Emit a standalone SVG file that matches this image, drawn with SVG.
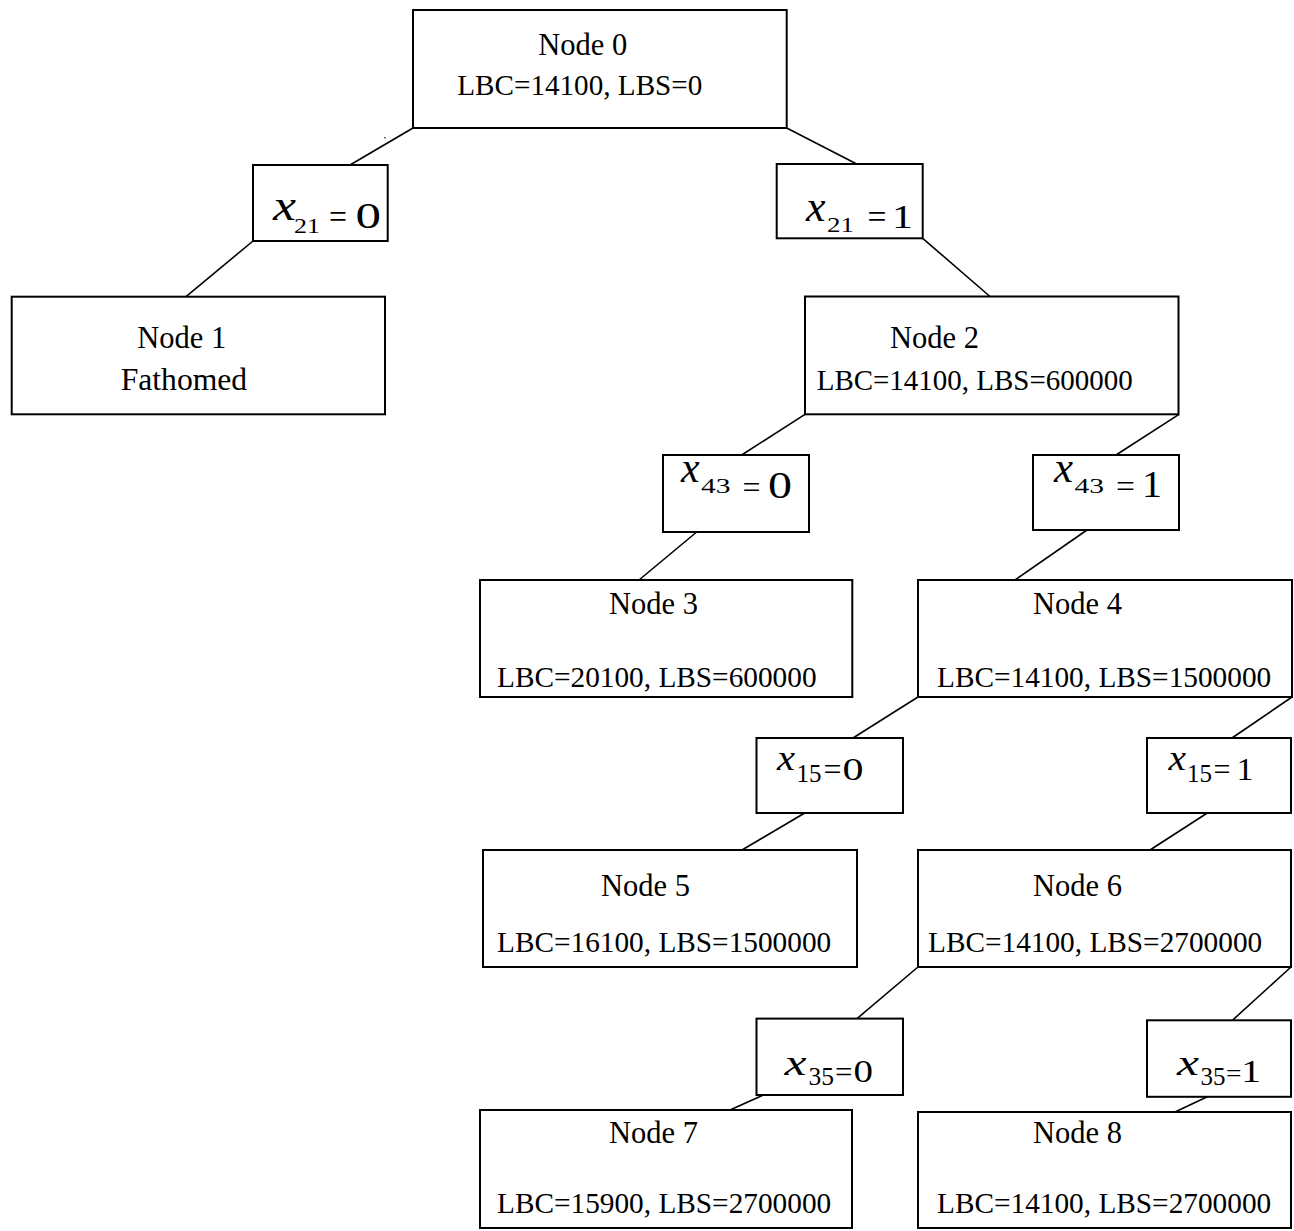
<svg xmlns="http://www.w3.org/2000/svg" width="1294" height="1231" viewBox="0 0 1294 1231">
  <style>
    .box { fill: #fff; stroke: #000; stroke-width: 2; }
    .edge { stroke: #000; stroke-width: 1.6; fill: none; }
    .t { font-family: "Liberation Serif", "Times New Roman", serif; fill: #000; }
    .nm { font-size: 30.5px; }
    .lb { font-size: 29.3px; }
    .var { font-style: italic; }
  </style>
  <rect width="1294" height="1231" fill="#fff"/>

  <!-- branch connectors -->
  <g id="connectors">
    <line class="edge" x1="413" y1="128" x2="350" y2="165"/>
    <line class="edge" x1="253" y1="241" x2="186" y2="296.7"/>
    <line class="edge" x1="786.7" y1="128" x2="856.7" y2="164"/>
    <line class="edge" x1="922.7" y1="238.3" x2="990" y2="296.5"/>
    <line class="edge" x1="805" y1="414.3" x2="741.7" y2="455"/>
    <line class="edge" x1="696.7" y1="532" x2="639" y2="580"/>
    <line class="edge" x1="1179" y1="414.3" x2="1116" y2="455"/>
    <line class="edge" x1="1087" y1="530" x2="1015" y2="580"/>
    <line class="edge" x1="918" y1="697" x2="853" y2="738"/>
    <line class="edge" x1="804.7" y1="813" x2="742" y2="850"/>
    <line class="edge" x1="1292" y1="697" x2="1232" y2="738"/>
    <line class="edge" x1="1207.3" y1="813" x2="1150" y2="850"/>
    <line class="edge" x1="918" y1="967" x2="857" y2="1018.6"/>
    <line class="edge" x1="763.4" y1="1095" x2="730" y2="1110"/>
    <line class="edge" x1="1291" y1="967" x2="1232.4" y2="1020.3"/>
    <line class="edge" x1="1207.3" y1="1096.8" x2="1175" y2="1112"/>
  </g>

  <!-- stray speck beside node 0 -->
  <circle cx="385" cy="137.7" r="0.8" fill="#000"/>

  <!-- tree nodes -->
  <g id="node0">
    <rect class="box" x="413" y="10" width="373.7" height="118"/>
    <text class="t nm" x="538.3" y="55">Node 0</text>
    <text class="t lb" x="457.3" y="95" textLength="245" lengthAdjust="spacingAndGlyphs">LBC=14100, LBS=0</text>
  </g>
  <g id="node1">
    <rect class="box" x="11.7" y="296.7" width="373.3" height="117.6"/>
    <text class="t nm" x="137.3" y="348.3">Node 1</text>
    <text class="t nm" x="120.7" y="390" textLength="126.5" lengthAdjust="spacingAndGlyphs">Fathomed</text>
  </g>
  <g id="node2">
    <rect class="box" x="805" y="296.5" width="373.5" height="117.8"/>
    <text class="t nm" x="890" y="348.3">Node 2</text>
    <text class="t lb" x="816.7" y="390" textLength="316" lengthAdjust="spacingAndGlyphs">LBC=14100, LBS=600000</text>
  </g>
  <g id="node3">
    <rect class="box" x="480" y="580" width="372.3" height="117"/>
    <text class="t nm" x="609" y="614">Node 3</text>
    <text class="t lb" x="497" y="687">LBC=20100, LBS=600000</text>
  </g>
  <g id="node4">
    <rect class="box" x="918" y="580" width="374" height="117"/>
    <text class="t nm" x="1033" y="614">Node 4</text>
    <text class="t lb" x="937" y="687">LBC=14100, LBS=1500000</text>
  </g>
  <g id="node5">
    <rect class="box" x="483" y="850" width="374" height="117"/>
    <text class="t nm" x="601" y="896">Node 5</text>
    <text class="t lb" x="497" y="952">LBC=16100, LBS=1500000</text>
  </g>
  <g id="node6">
    <rect class="box" x="918" y="850" width="373" height="117"/>
    <text class="t nm" x="1033" y="896">Node 6</text>
    <text class="t lb" x="928" y="952">LBC=14100, LBS=2700000</text>
  </g>
  <g id="node7">
    <rect class="box" x="480" y="1110" width="372" height="118"/>
    <text class="t nm" x="609" y="1143">Node 7</text>
    <text class="t lb" x="497" y="1213">LBC=15900, LBS=2700000</text>
  </g>
  <g id="node8">
    <rect class="box" x="918" y="1112" width="373" height="116"/>
    <text class="t nm" x="1033" y="1143">Node 8</text>
    <text class="t lb" x="937" y="1213">LBC=14100, LBS=2700000</text>
  </g>

  <!-- branching conditions: variable, subscript, equals sign and value, each piece set to its own width -->
  <g id="branch-x21-0">
    <rect class="box" x="253" y="165" width="134.7" height="76"/>
    <text class="t"><tspan class="var" x="273" y="220" font-size="44" textLength="23" lengthAdjust="spacingAndGlyphs">x</tspan><tspan x="294" y="232.7" font-size="21" textLength="26" lengthAdjust="spacingAndGlyphs">21</tspan><tspan x="329" y="228.3" font-size="34" textLength="18" lengthAdjust="spacingAndGlyphs">=</tspan><tspan x="355.5" y="228.3" font-size="36" textLength="25.5" lengthAdjust="spacingAndGlyphs">0</tspan></text>
  </g>
  <g id="branch-x21-1">
    <rect class="box" x="776.7" y="164" width="146" height="74.3"/>
    <text class="t"><tspan class="var" x="806" y="220.7" font-size="44" textLength="19.5" lengthAdjust="spacingAndGlyphs">x</tspan><tspan x="827" y="232.3" font-size="22" textLength="27" lengthAdjust="spacingAndGlyphs">21</tspan><tspan x="867.5" y="228.3" font-size="34" textLength="19" lengthAdjust="spacingAndGlyphs">=</tspan><tspan x="892" y="228.3" font-size="33" textLength="21" lengthAdjust="spacingAndGlyphs">1</tspan></text>
  </g>
  <g id="branch-x43-0">
    <rect class="box" x="663" y="455" width="146" height="77"/>
    <text class="t"><tspan class="var" x="681" y="481.7" font-size="44" textLength="18.5" lengthAdjust="spacingAndGlyphs">x</tspan><tspan x="701" y="493.3" font-size="20" textLength="29.5" lengthAdjust="spacingAndGlyphs">43</tspan><tspan x="742.5" y="497.7" font-size="32" textLength="18" lengthAdjust="spacingAndGlyphs">=</tspan><tspan x="768" y="497.7" font-size="38" textLength="24" lengthAdjust="spacingAndGlyphs">0</tspan></text>
  </g>
  <g id="branch-x43-1">
    <rect class="box" x="1033" y="455" width="146" height="75"/>
    <text class="t"><tspan class="var" x="1054" y="481.7" font-size="44" textLength="19" lengthAdjust="spacingAndGlyphs">x</tspan><tspan x="1074.5" y="493.3" font-size="20" textLength="29.5" lengthAdjust="spacingAndGlyphs">43</tspan><tspan x="1116" y="496.7" font-size="32" textLength="19" lengthAdjust="spacingAndGlyphs">=</tspan><tspan x="1142" y="496.7" font-size="37" textLength="20" lengthAdjust="spacingAndGlyphs">1</tspan></text>
  </g>
  <g id="branch-x15-0">
    <rect class="box" x="756.5" y="738" width="146.5" height="75"/>
    <text class="t"><tspan class="var" x="777" y="770.3" font-size="36" textLength="18" lengthAdjust="spacingAndGlyphs">x</tspan><tspan x="796.5" y="782" font-size="26" textLength="25" lengthAdjust="spacingAndGlyphs">15</tspan><tspan x="823.5" y="779.6" font-size="32" textLength="18" lengthAdjust="spacingAndGlyphs">=</tspan><tspan x="842.5" y="779.6" font-size="32" textLength="21" lengthAdjust="spacingAndGlyphs">0</tspan></text>
  </g>
  <g id="branch-x15-1">
    <rect class="box" x="1147" y="738" width="144" height="75"/>
    <text class="t"><tspan class="var" x="1168.5" y="770.3" font-size="36" textLength="17.5" lengthAdjust="spacingAndGlyphs">x</tspan><tspan x="1187" y="782" font-size="26" textLength="25" lengthAdjust="spacingAndGlyphs">15</tspan><tspan x="1213.5" y="779.6" font-size="32" textLength="17" lengthAdjust="spacingAndGlyphs">=</tspan><tspan x="1236.5" y="779.6" font-size="32" textLength="17" lengthAdjust="spacingAndGlyphs">1</tspan></text>
  </g>
  <g id="branch-x35-0">
    <rect class="box" x="756.5" y="1018.6" width="146.5" height="76.4"/>
    <text class="t"><tspan class="var" x="784.5" y="1075.4" font-size="35" textLength="22" lengthAdjust="spacingAndGlyphs">x</tspan><tspan x="808.5" y="1085" font-size="26" textLength="25.5" lengthAdjust="spacingAndGlyphs">35</tspan><tspan x="835" y="1082.3" font-size="30" textLength="17.5" lengthAdjust="spacingAndGlyphs">=</tspan><tspan x="853.5" y="1082.3" font-size="32" textLength="19.5" lengthAdjust="spacingAndGlyphs">0</tspan></text>
  </g>
  <g id="branch-x35-1">
    <rect class="box" x="1147" y="1020.3" width="144" height="76.5"/>
    <text class="t"><tspan class="var" x="1177" y="1075.4" font-size="35" textLength="22" lengthAdjust="spacingAndGlyphs">x</tspan><tspan x="1200.5" y="1085" font-size="25.5" textLength="25" lengthAdjust="spacingAndGlyphs">35</tspan><tspan x="1226" y="1082.3" font-size="26" textLength="15.5" lengthAdjust="spacingAndGlyphs">=</tspan><tspan x="1241" y="1082.3" font-size="32" textLength="20" lengthAdjust="spacingAndGlyphs">1</tspan></text>
  </g>
</svg>
